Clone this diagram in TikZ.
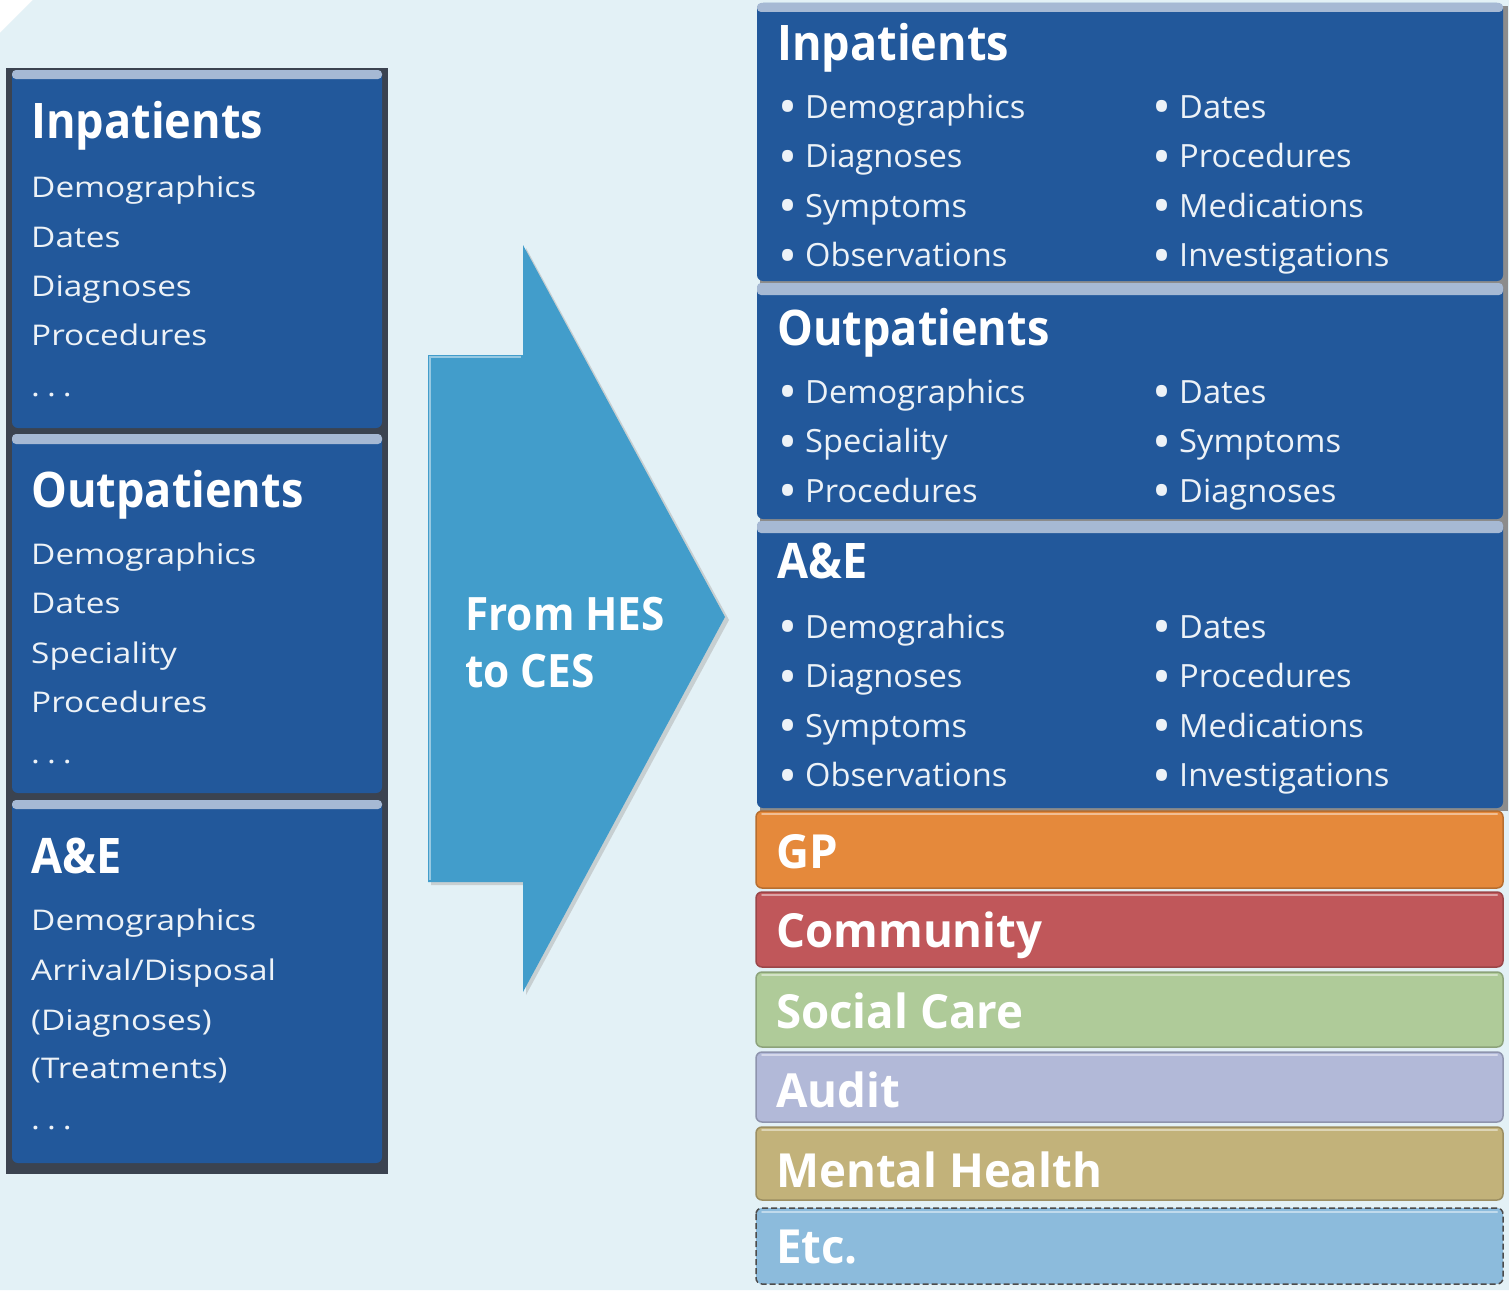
\documentclass[tikz,border=0pt]{standalone}
\usepackage{fontspec}
\setmainfont{Open Sans}
\newfontfamily\headfont[FakeStretch=0.92]{Open Sans}
\newfontfamily\barfont[FakeStretch=0.97]{Open Sans}
\newfontfamily\leftfont[FakeStretch=1.17]{Open Sans}
\newfontfamily\rightfont[FakeStretch=1.02]{Open Sans}

\definecolor{bgblue}{HTML}{E3F1F6}
\definecolor{panelblue}{HTML}{22589B}
\definecolor{hilite}{HTML}{A6B9D4}
\definecolor{framegray}{HTML}{3B4350}
\definecolor{arrowblue}{HTML}{429DCB}
\definecolor{gpc}{HTML}{E5893B}
\definecolor{commc}{HTML}{C0575A}
\definecolor{socc}{HTML}{AFCB99}
\definecolor{audc}{HTML}{B2B9D8}
\definecolor{mhc}{HTML}{C2B27A}
\definecolor{etcc}{HTML}{8CBBDC}

\newcommand{\bul}[1]{\makebox[25pt][l]{\hspace{-2pt}\raisebox{-6.5pt}{\scalebox{1.55}{\textbullet}}}#1}
\newcommand{\more}{.\hspace{7pt}.\hspace{7pt}.}

\begin{document}
\begin{tikzpicture}[x=1pt,y=-1pt,
  title/.style={anchor=base west,inner sep=0pt,text=white,
    font=\headfont\bfseries\fontsize{49}{50}\selectfont},
  leftitem/.style={anchor=base west,inner sep=0pt,text=white!92!panelblue,
    font=\leftfont\fontsize{28.5}{30}\selectfont},
  rightitem/.style={anchor=base west,inner sep=0pt,text=white!92!panelblue,
    font=\rightfont\fontsize{32}{34}\selectfont},
  barlabel/.style={anchor=base west,inner sep=0pt,text=white,
    font=\barfont\bfseries\fontsize{47}{48}\selectfont},
  arrowlabel/.style={anchor=base west,inner sep=0pt,text=white,
    font=\headfont\bfseries\fontsize{46}{48}\selectfont},
  panel/.style={fill=panelblue,rounded corners=6pt},
  topstrip/.style={fill=hilite,rounded corners=4pt},
  bar/.style={rounded corners=6pt,line width=1.5pt}
]
\useasboundingbox (0,0) rectangle (1509,1290);

% page background with the cut corner
\fill[white] (0,0) rectangle (1509,1290);
\fill[bgblue] (33,0) -- (1509,0) -- (1509,1290) -- (0,1290) -- (0,33) -- cycle;

% ---------------- left column: HES datasets ----------------
\fill[framegray] (6,68) rectangle (388,1174);
\fill[panel] (12,70) rectangle (382,428);
\fill[topstrip] (12,70) rectangle (382,79);
\fill[panel] (12,434) rectangle (382,793);
\fill[topstrip] (12,434) rectangle (382,444);
\fill[panel] (12,800) rectangle (382,1163);
\fill[topstrip] (12,800) rectangle (382,809);

\node[title] (lin) at (31,138) {Inpatients};
\foreach \t/\y [count=\i] in {Demographics/197,Dates/247,Diagnoses/296,Procedures/345,\more/396}
  \node[leftitem] (lin-\i) at (31,\y) {\t};

\node[title] (lout) at (31,507) {Outpatients};
\foreach \t/\y [count=\i] in {Demographics/564,Dates/613,Speciality/663,Procedures/712,\more/763}
  \node[leftitem] (lout-\i) at (31,\y) {\t};

\node[title] (lae) at (31,873) {A\&E};
\node[leftitem] (lae-1) at (31,930) {Demographics};
\node[leftitem] (lae-2) at (31,980) {Arrival/Disposal};
\node[leftitem] (lae-3) at (31,1030) {(Diagnoses)};
\node[leftitem] (lae-4) at (31,1078) {(Treatments)};
\node[leftitem] (lae-5) at (31,1129) {\more};

% ---------------- transition arrow ----------------
\fill[black!35,opacity=0.45] (431,358) -- (526,358) -- (526,248) -- (729,620)
  -- (526,995) -- (526,885) -- (431,885) -- cycle;
\fill[arrowblue] (428,355) -- (523,355) -- (523,245) -- (725,617)
  -- (523,992) -- (523,882) -- (428,882) -- cycle;
\draw[white!45!arrowblue,line width=2pt] (429.5,880) -- (429.5,356.5) -- (521,356.5);
\node[arrowlabel] (hes1) at (465,630) {From HES};
\node[arrowlabel] (hes2) at (465,687) {to CES};

% ---------------- right column: CES datasets ----------------
\fill[black!45] (760,6) rectangle (1508,811);
\fill[panel] (757,3) rectangle (1503,281);
\fill[topstrip] (757,3) rectangle (1503,12);
\fill[panel] (757,283) rectangle (1503,519);
\fill[topstrip] (757,283) rectangle (1503,295);
\fill[panel] (757,521) rectangle (1503,808);
\fill[topstrip] (757,521) rectangle (1503,533);

\node[title] (rin) at (777,60) {Inpatients};
\foreach \a/\b [count=\i] in {Demographics/Dates,Diagnoses/Procedures,Symptoms/Medications,Observations/Investigations}{
  \node[rightitem] (rin-a\i) at (780,{118+49.5*(\i-1)}) {\bul{\a}};
  \node[rightitem] (rin-b\i) at (1154,{118+49.5*(\i-1)}) {\bul{\b}};
}

\node[title] (rout) at (777,345) {Outpatients};
\foreach \a/\b [count=\i] in {Demographics/Dates,Speciality/Symptoms,Procedures/Diagnoses}{
  \node[rightitem] (rout-a\i) at (780,{403+49.5*(\i-1)}) {\bul{\a}};
  \node[rightitem] (rout-b\i) at (1154,{403+49.5*(\i-1)}) {\bul{\b}};
}

\node[title] (rae) at (777,578) {A\&E};
\foreach \a/\b [count=\i] in {Demograhics/Dates,Diagnoses/Procedures,Symptoms/Medications,Observations/Investigations}{
  \node[rightitem] (rae-a\i) at (780,{638+49.5*(\i-1)}) {\bul{\a}};
  \node[rightitem] (rae-b\i) at (1154,{638+49.5*(\i-1)}) {\bul{\b}};
}

% ---------------- further data sources ----------------
\foreach \c/\top/\bot/\lab/\base/\nm in {
    gpc/811/888/GP/868/gp,
    commc/892/967/Community/947/comm,
    socc/972/1047/Social Care/1028/soc,
    audc/1052/1122/Audit/1107/aud,
    mhc/1127/1200/Mental Health/1187/mh}{
  \filldraw[bar,fill=\c,draw=\c!80!black] (756,\top) rectangle (1503,\bot);
  \draw[\c!55!white,line width=2pt,line cap=round] (762,\top+3) -- (1497,\top+3);
  \node[barlabel] (\nm) at (776,\base) {\lab};
}
\filldraw[bar,fill=etcc,draw=black!70,dashed,dash pattern=on 6pt off 3pt] (756,1208) rectangle (1503,1284);
\draw[etcc!55!white,line width=2pt,line cap=round] (762,1212) -- (1497,1212);
\node[barlabel] (etc) at (776,1263) {Etc.};

\end{tikzpicture}
\end{document}
